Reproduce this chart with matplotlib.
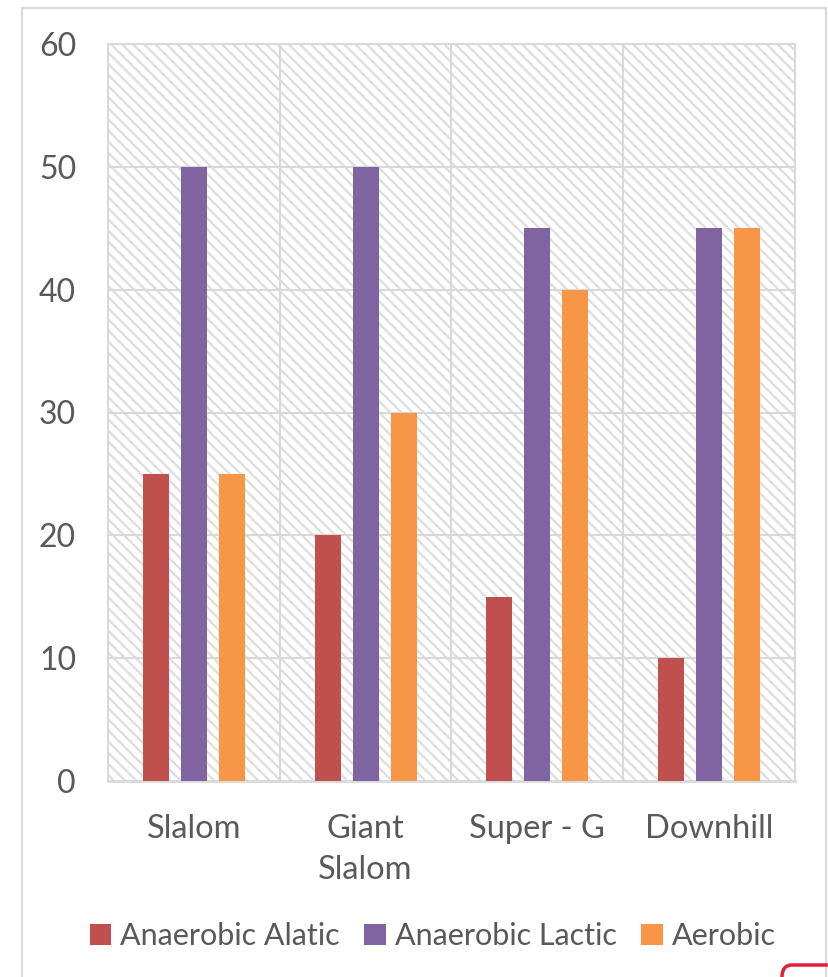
import numpy as np
import matplotlib.pyplot as plt
from matplotlib.patches import Rectangle, FancyBboxPatch

categories = ["Slalom", "Giant\nSlalom", "Super - G", "Downhill"]
series_names = ["Anaerobic Alatic", "Anaerobic Lactic", "Aerobic"]
alatic = [25, 20, 15, 10]
lactic = [50, 50, 45, 45]
aerobic = [25, 30, 40, 45]
colors = ["#c0504d", "#8064a2", "#f79646"]
yticks = [0, 10, 20, 30, 40, 50, 60]

plt.rcParams["font.family"] = ["Lato", "DejaVu Sans"]
plt.rcParams["hatch.color"] = "#dedede"
plt.rcParams["hatch.linewidth"] = 1.6

W, H = 829, 977
fig = plt.figure(figsize=(W / 100, H / 100), dpi=100)
fig.patch.set_facecolor("white")

# outer chart border
fig.add_artist(Rectangle((22 / W, -0.05), (826 - 22) / W, 1.05 - 8 / H,
                         transform=fig.transFigure, fill=False,
                         edgecolor="#d9d9d9", linewidth=1.5))
# red corner artifact bottom right
fig.add_artist(FancyBboxPatch((782 / W, -0.05), 0.2, 0.05 + 12 / H,
                              boxstyle="round,pad=0,rounding_size=0.012",
                              transform=fig.transFigure, fill=False,
                              edgecolor="#e0203a", linewidth=2.5))

ax = fig.add_axes([108 / W, 1 - 781 / H, (795 - 108) / W, (781 - 44) / H])
ax.set_xlim(-0.5, 3.5)
ax.set_ylim(0, 60)

# hatched plot background
ax.add_patch(Rectangle((0, 0), 1, 1, transform=ax.transAxes, facecolor="white",
                       hatch="\\\\\\", edgecolor="#dedede", linewidth=0, zorder=0))

for y in yticks[1:]:
    ax.axhline(y, color="#d9d9d9", linewidth=1.5, zorder=1)
for xv in [0.5, 1.5, 2.5]:
    ax.axvline(xv, color="#d9d9d9", linewidth=1.5, zorder=1)

x = np.arange(len(categories))
w = 0.152
off = 0.221
for i, (vals, name) in enumerate(zip([alatic, lactic, aerobic], series_names)):
    ax.bar(x + (i - 1) * off, vals, width=w, color=colors[i], label=name, zorder=3)

for s in ["top", "right", "left"]:
    ax.spines[s].set_color("#d9d9d9")
    ax.spines[s].set_linewidth(1.5)
ax.spines["bottom"].set_color("#d9d9d9")
ax.spines["bottom"].set_linewidth(2)

ax.set_yticks(yticks)
ax.set_xticks(x)
ax.set_xticklabels(categories, linespacing=1.45)
ax.tick_params(axis="both", length=0, labelcolor="#595959")
ax.tick_params(axis="y", pad=23, labelsize=23)
ax.tick_params(axis="x", pad=24, labelsize=23.5)

leg = fig.legend(loc="center", bbox_to_anchor=(0.522, 1 - 936 / H), ncol=3,
                 frameon=False, fontsize=22, handlelength=0.7, handleheight=0.7,
                 handletextpad=0.3, columnspacing=0.8)
for t in leg.get_texts():
    t.set_color("#595959")

fig.savefig("out.png", dpi=100)
